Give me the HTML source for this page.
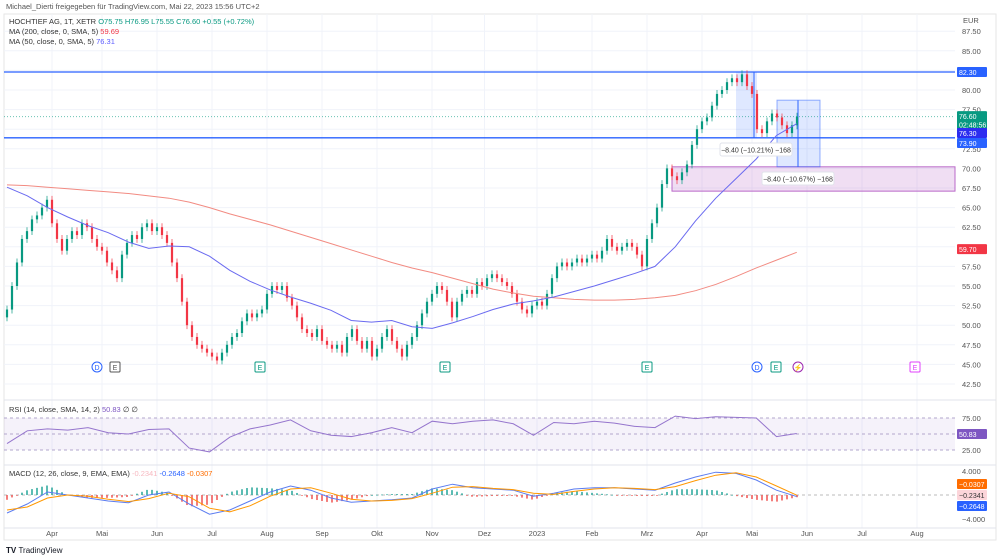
<!DOCTYPE html>
<html><head><meta charset="utf-8"><style>
html,body{margin:0;padding:0;background:#fff;width:1000px;height:560px;overflow:hidden;font-family:"Liberation Sans",sans-serif}
svg text{font-family:"Liberation Sans",sans-serif}
</style></head><body>
<svg id="chart" width="1000" height="560" viewBox="0 0 1000 560" xmlns="http://www.w3.org/2000/svg">
<text x="6" y="9" font-size="7.5" fill="#555">Michael_Dierti freigegeben für TradingView.com, Mai 22, 2023 15:56 UTC+2</text>
<rect x="4" y="14" width="992" height="526" fill="none" stroke="#e6e6e6"/>
<g id="grid"></g>
<g id="main"></g>
<g id="rsi"></g>
<g id="macd"></g>
<g id="axes"></g>
<text x="9" y="24" font-size="7.5" fill="#333">HOCHTIEF AG, 1T, XETR <tspan fill="#089981">O75.75 H76.95 L75.55 C76.60 +0.55 (+0.72%)</tspan></text>
<text x="9" y="34" font-size="7.5" fill="#333">MA (200, close, 0, SMA, 5) <tspan fill="#f23645">59.69</tspan></text>
<text x="9" y="44" font-size="7.5" fill="#333">MA (50, close, 0, SMA, 5) <tspan fill="#5b5bff">76.31</tspan></text>
<text x="9" y="412" font-size="7.5" fill="#333">RSI (14, close, SMA, 14, 2) <tspan fill="#7e57c2">50.83</tspan> ∅ ∅</text>
<text x="9" y="476" font-size="7.5" fill="#333">MACD (12, 26, close, 9, EMA, EMA) <tspan fill="#f7b8c0">-0.2341</tspan> <tspan fill="#2962ff">-0.2648</tspan> <tspan fill="#ff6d00">-0.0307</tspan></text>
<text x="6" y="553" font-size="8" font-weight="bold" fill="#131722">TV <tspan font-weight="normal">TradingView</tspan></text>
</svg>
<script>
const closes=[52,55,58,61,62,63.5,64,65,66,63,61,59.5,61,62,61.5,63,62.5,61,60,59.5,58,57,56,59,60.5,61.5,61,62.5,63,62,62.5,61.5,60.5,58,56,53,50,48.5,47.5,47,46.5,46,45.5,46.5,47.5,48.5,49,50.5,51.5,51,51.5,52,54,55,54.5,55,53.5,52.5,51,49.5,49,48.5,49.5,48,47.5,47,47.5,46.5,48.5,49.5,48,47,48,46,47,48.5,49.5,48,47,46,47.5,48.5,50,51.5,53,54,55,54.5,53,51,53,54,54.5,54,55.5,55,56,56.5,56,55.5,55,54,53,52,51.5,52.5,53,52.5,54,56,57.5,58,57.5,58,58.5,58,58.5,59,58.5,59.5,61,60,59.5,60,60.5,60,59,57.5,61,63,65,68,70,69,68.5,69.5,70.5,73,75,76,76.5,78,79.5,80,81,81.5,81,82,80.5,79.5,75,74.5,76,77,76.5,75.5,74.5,75.5,76.6];
const ma200=[67.9,67.8,67.6,67.4,67.2,67,66.8,66.5,66.2,65.7,65,64.2,63.5,62.8,62,61.2,60.4,59.6,58.8,58,57.3,56.7,56,55.3,54.6,54.1,53.7,53.5,53.3,53.2,53.2,53.3,53.5,53.8,54.4,55.2,56.2,57.3,58.3,59.3];
const ma50=[67.6,66.5,65,63.8,62.7,61.8,60.6,59.8,60.1,60,58.8,57,55.6,54.5,53.6,52.8,51.9,50.6,50.4,50.6,49.8,49.6,50.3,51.1,52,52.7,53.1,53.6,54.3,55,55.8,56.6,57.5,60,63.3,66.2,68.7,71.2,74.2,75.7];
const rsiVals=[35,55,58,56,60,52,50,57,58,28,22,45,58,64,72,55,48,46,52,60,52,70,66,70,72,66,48,68,66,70,67,62,60,78,74,77,76,75,46,50.8];
const macdLine=[-3,-1.5,0.5,0,-0.5,-1,-1.3,0,0.5,-1.5,-3.2,-2.5,-1,0.5,1.5,0.8,-0.5,-1.2,-1,-0.8,-0.5,1,1.8,1.2,1,0.8,-0.2,0.3,1,1.2,1.2,1,0.8,2,3,3.8,3.6,2.5,0.8,-0.26];
const signalLine=[-2.5,-2,-0.5,0,-0.2,-0.7,-1.1,-0.6,0.3,-0.3,-2.2,-2.8,-1.8,-0.2,1,1.2,0.3,-0.7,-1,-0.9,-0.6,0.3,1.3,1.4,1.1,0.9,0.3,0.1,0.6,1,1.2,1.1,0.9,1.4,2.4,3.3,3.7,3,1.5,-0.03];
const priceTicks=[87.5,85,82.5,80,77.5,75,72.5,70,67.5,65,62.5,60,57.5,55,52.5,50,47.5,45,42.5];
const monthLabels=["Apr","Mai","Jun","Jul","Aug","Sep","Okt","Nov","Dez","2023","Feb","Mrz","Apr","Mai","Jun","Jul","Aug"];
const monthIdx=[9,19,30,41,52,63,74,85,95.5,106,117,128,139,149,160,171,182];

const NS="http://www.w3.org/2000/svg";
function mk(parent,tag,attrs,text){const e=document.createElementNS(NS,tag);for(const k in attrs)e.setAttribute(k,attrs[k]);if(text!==undefined)e.textContent=text;parent.appendChild(e);return e;}
const X=i=>7+i*5;
const Y=p=>90+(80-p)*7.84;
const RY=v=>434-(v-50)*0.64;
const MY=v=>495-v*6;
const G=document.getElementById('grid'),M=document.getElementById('main'),R=document.getElementById('rsi'),D=document.getElementById('macd'),A=document.getElementById('axes');

monthIdx.forEach((m,k)=>{const l=mk(G,'line',{x1:X(m),x2:X(m),y1:14,y2:528,stroke:'#f0f3fa'});


const t=mk(A,'text',{x:X(m),y:536,'font-size':7.5,fill:'#555','text-anchor':'middle'},monthLabels[k]);

});
priceTicks.forEach(p=>{const l=mk(G,'line',{x1:4,x2:955,y1:Y(p),y2:Y(p),stroke:'#f0f3fa'});


const t=mk(A,'text',{x:962,y:Y(p)+3,'font-size':7.5,fill:'#555'},p.toFixed(2));

});
const eur=mk(A,'text',{x:963,y:23,'font-size':7.5,fill:'#555'},'EUR');


[400,465,528].forEach(y=>{const l=mk(G,'line',{x1:4,x2:996,y1:y,y2:y,stroke:'#e0e3eb'});

});

const zone=mk(M,'rect',{x:672,y:Y(70.2),width:283,height:Y(67.1)-Y(70.2),fill:'rgba(186,104,200,0.22)',stroke:'#ba68c8'});


const m1=mk(M,'rect',{x:736,y:Y(82.3),width:21,height:Y(73.9)-Y(82.3),fill:'rgba(41,98,255,0.15)'});


const m2=mk(M,'rect',{x:777,y:Y(78.7),width:43,height:Y(70.2)-Y(78.7),fill:'rgba(41,98,255,0.15)',stroke:'rgba(41,98,255,0.5)'});


[[754,82.3,73.9],[798,78.7,70.2]].forEach(a=>{const l=mk(M,'line',{x1:a[0],x2:a[0],y1:Y(a[1]),y2:Y(a[2]),stroke:'#2962ff'});

});

[[82.3,'#2962ff'],[73.9,'#2962ff']].forEach(h=>{const l=mk(M,'line',{x1:4,x2:955,y1:Y(h[0]),y2:Y(h[0]),stroke:h[1],'stroke-width':1.3});

});
const cl=mk(M,'line',{x1:4,x2:955,y1:Y(76.6),y2:Y(76.6),stroke:'#089981','stroke-dasharray':'1 2','stroke-opacity':0.6});



closes.forEach((c,i)=>{const o=i?closes[i-1]:c-1;const up=c>=o;const col=up?'#089981':'#f23645';
const w=mk(M,'line',{x1:X(i),x2:X(i),y1:Y(Math.max(o,c)+0.5),y2:Y(Math.min(o,c)-0.5),stroke:col,'stroke-width':0.7});


const b=mk(M,'rect',{x:X(i)-1.1,y:Y(Math.max(o,c)),width:2.2,height:Math.max(1,Math.abs(Y(o)-Y(c))),fill:col});

});

function line(parent,arr,step,yf,col,name,w){const d=arr.map((v,i)=>(i?'L':'M')+X(i*step)+','+yf(v)).join('');
const p=mk(parent,'path',{d:d,fill:'none',stroke:col,'stroke-width':w||1});

}
line(M,ma200,4.05,Y,'#f28b82','ma200-line');
line(M,ma50,4.05,Y,'#6a6af0','ma50-line');

function lab(x,y,t){const r=mk(M,'rect',{x:x,y:y,width:72,height:13,fill:'#fff',rx:2,stroke:'#e0e3eb'});


const tt=mk(M,'text',{x:x+36,y:y+9.5,'font-size':7,fill:'#333','text-anchor':'middle'},t);

}
lab(720,143,'−8.40 (−10.21%) −168');
lab(762,172,'−8.40 (−10.67%) −168');

[[97,'D','#2962ff',1],[115,'E','#555',0],[260,'E','#089981',0],[445,'E','#089981',0],[647,'E','#089981',0],[757,'D','#2962ff',1],[776,'E','#089981',0],[798,'⚡','#9c27b0',1],[915,'E','#e040fb',0]].forEach(e=>{
const s=e[3]?mk(M,'circle',{cx:e[0],cy:367,r:5,fill:'#fff',stroke:e[2]}):mk(M,'rect',{x:e[0]-5,y:362,width:10,height:10,fill:'#fff',stroke:e[2],rx:1});


const t=mk(M,'text',{x:e[0],y:370,'font-size':7,fill:e[2],'text-anchor':'middle'},e[1]);

});

const band=mk(R,'rect',{x:4,y:RY(75),width:951,height:RY(25)-RY(75),fill:'rgba(126,87,194,0.08)'});


[75,50,25].forEach(v=>{const l=mk(R,'line',{x1:4,x2:955,y1:RY(v),y2:RY(v),stroke:'#b2a7cc','stroke-dasharray':'3 3'});


const t=mk(A,'text',{x:962,y:RY(v)+3,'font-size':7.5,fill:'#555'},v===50?'':v.toFixed(2));

});
line(R,rsiVals,4.05,RY,'#9575cd','rsi-line');

const z=mk(D,'line',{x1:4,x2:955,y1:MY(0),y2:MY(0),stroke:'#bbb','stroke-dasharray':'3 3'});


const histVals=macdLine.map((v,i)=>v-signalLine[i]);
for(let i=0;i<closes.length;i++){const f=i/4.05;const k=Math.min(Math.floor(f),histVals.length-2);const t=Math.min(1,f-k);
const h=(histVals[k]*(1-t)+histVals[k+1]*t)*1.6;const col=h>=0?'#26a69a':'#ef5350';
const b=mk(D,'rect',{x:X(i)-1,y:Math.min(MY(0),MY(h)),width:2,height:Math.max(0.8,Math.abs(MY(h)-MY(0))),fill:col,opacity:0.75});

}
line(D,macdLine,4.05,MY,'#5b7cf0','macd-line');
line(D,signalLine,4.05,MY,'#ff9800','signal-line');
[[4,'4.000'],[-4,'−4.000']].forEach(t=>{const e=mk(A,'text',{x:962,y:MY(t[0])+3,'font-size':7.5,fill:'#555'},t[1]);

});

function tag(y,h,bg,fg,txt,name){const r=mk(A,'rect',{x:957,y:y-h/2,width:30,height:h,fill:bg,rx:1});


txt.forEach((s,k)=>{const t=mk(A,'text',{x:959,y:y-h/2+8+k*8.5,'font-size':7,fill:fg},s);

});}
tag(Y(82.3),10,'#2962ff','#fff',['82.30'],'level-tag-8230');
tag(Y(76.6)+4,19,'#089981','#fff',['76.60','02:48:56'],'last-price-tag');
tag(133,10,'#2d2df0','#fff',['76.30'],'ma50-tag');
tag(143,10,'#2962ff','#fff',['73.90'],'level-tag-7390');
tag(Y(59.7),10,'#f23645','#fff',['59.70'],'ma200-tag');
tag(434,10,'#7e57c2','#fff',['50.83'],'rsi-tag');
tag(484,10,'#ff6d00','#fff',['−0.0307'],'signal-tag');
tag(495,10,'#fcd5da','#333',['−0.2341'],'histogram-tag');
tag(506,10,'#2962ff','#fff',['−0.2648'],'macd-tag');
</script>
</body></html>
